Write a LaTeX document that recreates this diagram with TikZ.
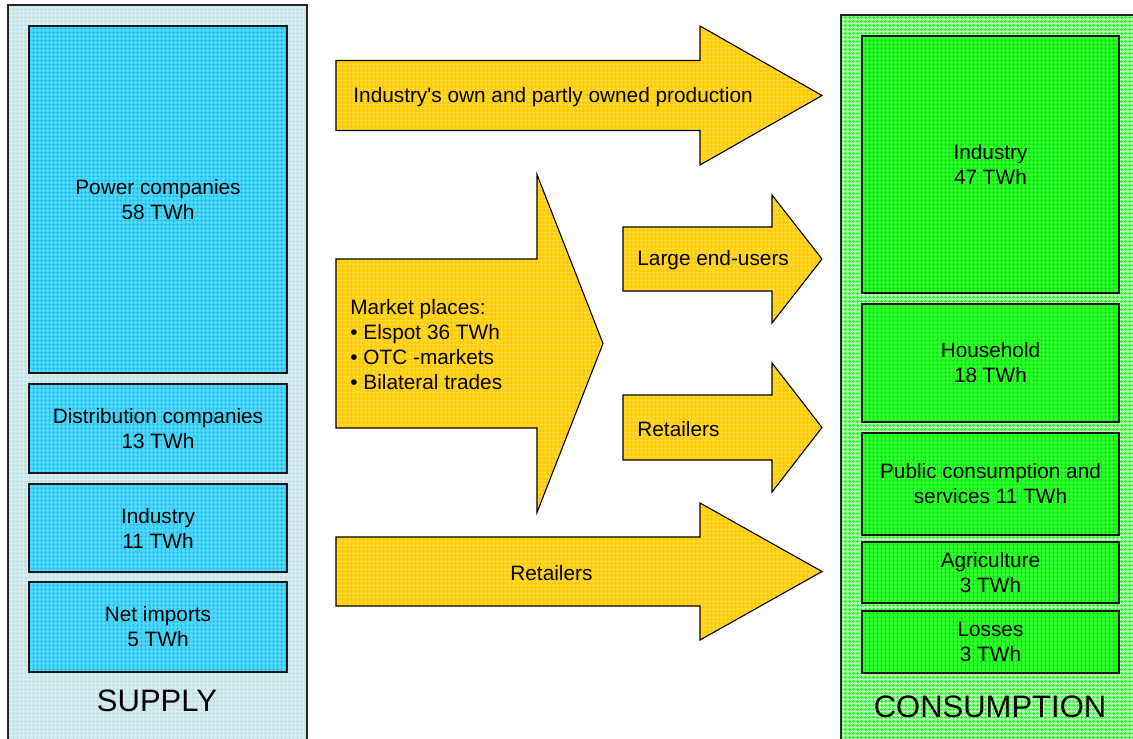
\documentclass[tikz,border=0pt]{standalone}
\usepackage{fontspec}
\setmainfont{Liberation Sans}
\usetikzlibrary{calc,patterns.meta}

\definecolor{supplybg}{RGB}{214,237,240}
\definecolor{supplybggrid}{RGB}{192,224,230}
\definecolor{supplybox}{RGB}{80,214,248}
\definecolor{supplyboxgrid}{RGB}{20,198,242}
\definecolor{usebg}{RGB}{175,255,175}
\definecolor{usebggrid}{RGB}{40,250,40}
\definecolor{usebox}{RGB}{45,255,45}
\definecolor{useboxgrid}{RGB}{10,228,10}
\definecolor{flowfill}{RGB}{255,205,10}
\definecolor{flowgrid}{RGB}{255,220,70}

\tikzdeclarepattern{name=mesh, type=uncolored,
  bounding box={(0pt,0pt) and (2pt,2pt)}, tile size={(2pt,2pt)},
  code={\draw[line width=0.45pt] (0pt,1pt) -- (2pt,1pt) (1pt,0pt) -- (1pt,2pt);}}
\tikzdeclarepattern{name=meshb, type=uncolored,
  bounding box={(0pt,0pt) and (2pt,2pt)}, tile size={(2pt,2pt)},
  code={\draw[line width=0.7pt] (0pt,1pt) -- (2pt,1pt) (1pt,0pt) -- (1pt,2pt);}}

\tikzset{
  panel/.style={draw=black!85, line width=0.75pt},
  supply/.style={draw=black!90, line width=0.8pt, preaction={fill=supplybox},
    pattern=mesh, pattern color=supplyboxgrid},
  demand/.style={draw=black!90, line width=0.8pt, preaction={fill=usebox},
    pattern=mesh, pattern color=useboxgrid},
  flow/.style={draw=black, line width=0.55pt, preaction={fill=flowfill},
    pattern=mesh, pattern color=flowgrid},
  lbl/.style={font=\fontsize{10.4}{12.5}\selectfont, align=center, inner sep=0pt},
  big/.style={font=\fontsize{15.5}{18}\selectfont, inner sep=0pt}}

% box with centred label: style, corner, corner, name, text
\newcommand\unitbox[5]{%
  \draw[#1] (#2) rectangle (#3);
  \node[lbl] (#4) at ($(#2)!.5!(#3)$) {#5};}
% block arrow: x start, x head, x tip, y middle, half shaft, half head
\newcommand\flowarrow[6]{%
  \draw[flow] (#1,#4-#5) -- (#2,#4-#5) -- (#2,#4-#6) -- (#3,#4)
    -- (#2,#4+#6) -- (#2,#4+#5) -- (#1,#4+#5) -- cycle;}

\begin{document}
\begin{tikzpicture}[x=0.5pt,y=-0.5pt]
  \useasboundingbox (0,0) rectangle (1133,738);
  \clip (0,0) rectangle (1133,738);
  % the two sides
  \draw[panel, preaction={fill=supplybg}, pattern=mesh, pattern color=supplybggrid]
    (8,5) rectangle (307,750);
  \draw[panel, preaction={fill=usebg}, pattern=meshb, pattern color=usebggrid]
    (841,15) rectangle (1150,750);
  \node[big] (sup) at (157,701) {SUPPLY};
  \node[big] (con) at (990,707) {CONSUMPTION};
  % supply
  \unitbox{supply}{29,26}{287,373}{pow}{Power companies\\58 TWh}
  \unitbox{supply}{29,384}{287,473}{dist}{Distribution companies\\13 TWh}
  \unitbox{supply}{29,484}{287,572}{ind}{Industry\\11 TWh}
  \unitbox{supply}{29,582}{287,672}{imp}{Net imports\\5 TWh}
  % consumption
  \unitbox{demand}{862,36}{1119,293}{cind}{Industry\\47 TWh}
  \unitbox{demand}{862,304}{1119,422}{home}{Household\\18 TWh}
  \unitbox{demand}{862,433}{1119,535}{pub}{Public consumption and\\services 11 TWh}
  \unitbox{demand}{862,542}{1119,603}{agr}{Agriculture\\3 TWh}
  \unitbox{demand}{862,611}{1119,673}{loss}{Losses\\3 TWh}
  % flows
  \flowarrow{336}{700}{822}{95.5}{35}{69.5}
  \flowarrow{336}{537}{603}{343.5}{84.5}{169}
  \flowarrow{623}{772}{822}{259}{32}{64}
  \flowarrow{623}{772}{822}{427.5}{32.5}{64.5}
  \flowarrow{336}{700}{822}{571.5}{34.5}{68.5}
  \node[lbl, anchor=west] (own) at (353,97) {Industry\textquotesingle s own and partly owned production};
  \node[lbl, anchor=west, align=left] (mkt) at (350,344.5)
    {Market places:\\• Elspot 36 TWh\\• OTC -markets\\• Bilateral trades};
  \node[lbl, anchor=west] (large) at (637,260) {Large end-users};
  \node[lbl, anchor=west] (retm) at (637,429) {Retailers};
  \node[lbl, anchor=west] (retb) at (510,573) {Retailers};
\end{tikzpicture}
\end{document}
